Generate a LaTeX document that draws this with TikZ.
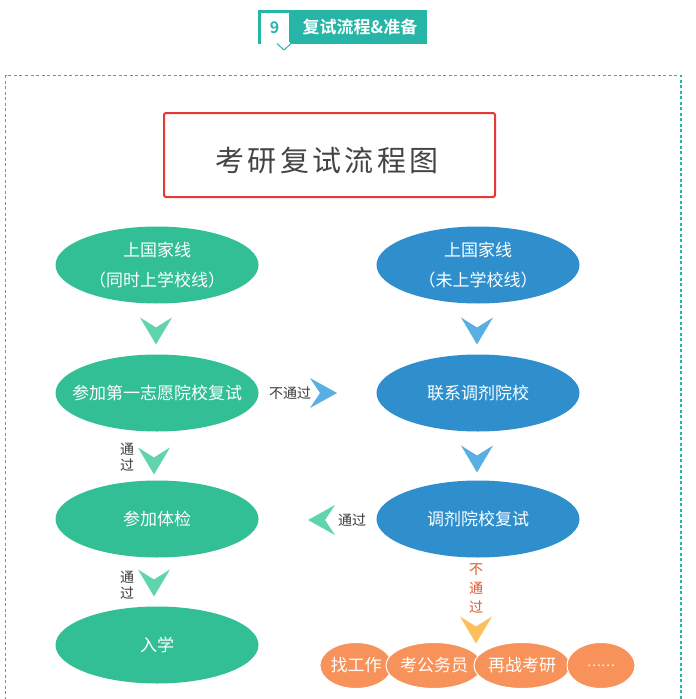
\documentclass[tikz,border=0pt]{standalone}
\usepackage{fontspec}
\usetikzlibrary{shapes.geometric}
\newfontfamily\cjk{Noto Sans CJK SC}
\newfontfamily\cjkbold{Noto Sans CJK SC Bold}
\definecolor{hdr}{HTML}{26B5A6}
\definecolor{gEll}{HTML}{33BF95}
\definecolor{gChev}{HTML}{5FD4AE}
\definecolor{bEll}{HTML}{2F8FCD}
\definecolor{bChev}{HTML}{5AAFE2}
\definecolor{oEll}{HTML}{F7925A}
\definecolor{oChev}{HTML}{FDBE5C}
\definecolor{redline}{HTML}{E53A34}
\definecolor{oText}{HTML}{E05A2B}
\definecolor{lblText}{HTML}{3A3A3A}
\definecolor{titleText}{HTML}{444444}
\tikzset{
  big/.style={ellipse, minimum width=203pt, minimum height=77pt, inner sep=0pt,
    text=white, font=\cjk\fontsize{17}{30}\selectfont, align=center},
  gbig/.style={big, fill=gEll},
  bbig/.style={big, fill=bEll},
  smallell/.style={ellipse, fill=oEll, draw=white, line width=1pt, minimum height=46pt,
    inner sep=0pt, text=white, font=\cjk\fontsize{17}{20}\selectfont},
  lbl/.style={font=\cjk\fontsize{14}{16}\selectfont, text=lblText, align=center, inner sep=0pt},
  chevdown/.pic={\fill[#1] (-16,-13.5) -- (0,13.5) -- (16,-13.5) -- (0,-3.5) -- cycle;},
  chevright/.pic={\fill[#1] (-13.5,-15) -- (13.5,0) -- (-13.5,15) -- (-3.5,0) -- cycle;},
  chevleft/.pic={\fill[#1] (13.5,-15) -- (-13.5,0) -- (13.5,15) -- (3.5,0) -- cycle;},
}
\begin{document}
\begin{tikzpicture}[x=1pt,y=-1pt]
\useasboundingbox (0,0) rectangle (696,699);
\fill[white] (0,0) rectangle (696,699);

% header
\fill[hdr] (258,10) rectangle (427,44);
\fill[white] (260.5,12.5) rectangle (289,44);
\draw[hdr, fill=white, line width=1pt] (277,43.5) -- (284,50) -- (291,43.5);
\fill[white] (277.8,42) rectangle (290.2,44);
\node[font=\cjkbold\fontsize{16}{16}\selectfont, text=hdr, inner sep=0pt] (num) at (274.5,27.5) {9};
\node[font=\cjkbold\fontsize{17}{17}\selectfont, text=white, inner sep=0pt] (hdrtxt) at (360,27) {复试流程\&准备};

% dashed frame
\draw[hdr, line width=1.2pt, dash pattern=on 3pt off 2.5pt] (5.5,705) -- (5.5,75.5) -- (681,75.5) -- (681,705);

% title
\node[draw=redline, line width=2pt, rounded corners=2pt, minimum width=331pt, minimum height=84pt] (title) at (329.5,155) {};
\node[font=\cjk\fontsize{29}{29}\selectfont\addfontfeature{LetterSpace=12}, text=titleText, inner sep=0pt] (titletxt) at (327,160.5) {考研复试流程图};

% left column
\node[gbig] (L1) at (157,265) {上国家线\\（同时上学校线）};
\node[gbig] (L2) at (157,393) {\makebox[0pt]{参加第一志愿院校复试}};
\node[gbig] (L3) at (157,519) {参加体检};
\node[gbig] (L4) at (157,645) {入学};

% right column
\node[bbig] (R1) at (478,265) {上国家线\\（未上学校线）};
\node[bbig] (R2) at (478,393) {联系调剂院校};
\node[bbig] (R3) at (478,519) {调剂院校复试};

% bottom options
\node[smallell, minimum width=70pt] (O1) at (356,665.5) {找工作};
\node[smallell, minimum width=90pt] (O2) at (434,665.5) {考公务员};
\node[smallell, minimum width=92pt] (O3) at (522,665.5) {再战考研};
\node[smallell, minimum width=68pt, font=\cjk\fontsize{13}{13}\selectfont] (O4) at (601,665.5) {……};

% connectors (chevrons)
\pic at (156,331) {chevdown=gChev};
\pic at (477,331) {chevdown=bChev};
\pic at (323.5,393) {chevright=bChev};
\node[lbl] (t1) at (290,393) {不通过};
\pic at (154,461) {chevdown=gChev};
\node[lbl] (t2) at (127,457) {通\\过};
\pic at (477,459) {chevdown=bChev};
\pic at (321.5,520) {chevleft=gChev};
\node[lbl] (t3) at (352,520) {通过};
\pic at (154,583) {chevdown=gChev};
\node[lbl] (t4) at (127,585) {通\\过};
\node[lbl, text=oText, font=\cjk\fontsize{14}{19}\selectfont] (t5) at (476,589) {不\\通\\过};
\pic at (476,630) {chevdown=oChev};
\end{tikzpicture}
\end{document}
